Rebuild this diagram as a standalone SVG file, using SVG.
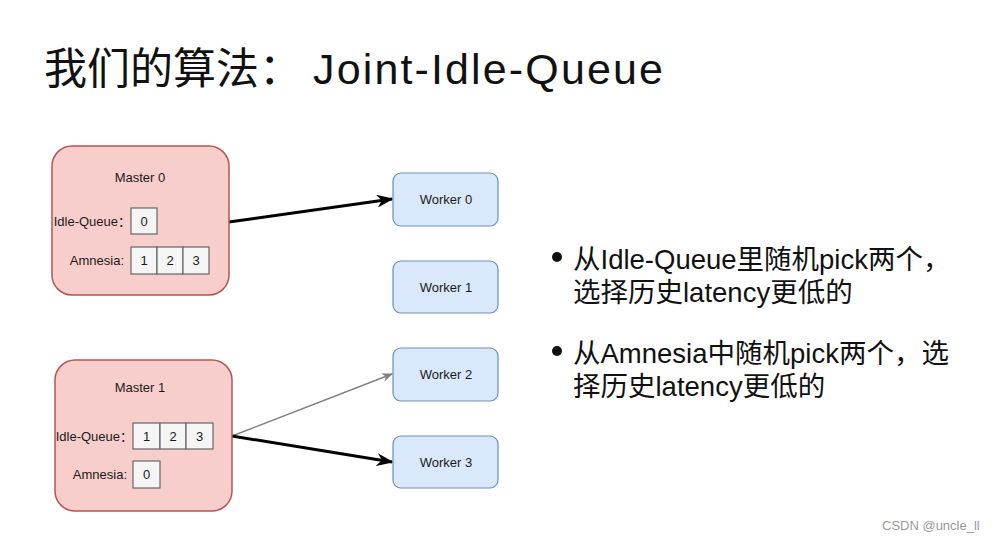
<svg xmlns="http://www.w3.org/2000/svg" width="999" height="543" viewBox="0 0 999 543">
<defs>
<style>
.sans{font-family:"Liberation Sans","Noto Sans CJK SC",sans-serif;}
.master{fill:#f8cecc;stroke:#b85450;stroke-width:1.5;}
.worker{fill:#dae8fc;stroke:#6c8ebf;stroke-width:1.2;}
.cell{fill:#f5f5f5;stroke:#666666;stroke-width:1.2;}
.lbl{font-size:13px;fill:#1a1a1a;}
.mid{text-anchor:middle;}
.end{text-anchor:end;}
.bul{font-size:27.5px;fill:#111;}
</style>
<marker id="ahBlack" markerUnits="userSpaceOnUse" viewBox="0 0 10 10" markerWidth="17" markerHeight="13" refX="9" refY="5" orient="auto" preserveAspectRatio="none">
<path d="M0,0 L10,5 L0,10 L3,5 z" fill="#000"/>
</marker>
<marker id="ahGray" markerUnits="userSpaceOnUse" viewBox="0 0 10 10" markerWidth="11" markerHeight="9" refX="9" refY="5" orient="auto" preserveAspectRatio="none">
<path d="M0,0 L10,5 L0,10 L3,5 z" fill="#808080"/>
</marker>
</defs>
<rect width="999" height="543" fill="#ffffff"/>

<text id="title" class="sans" x="44" y="84" font-size="43" fill="#111">我们的算法：<tspan x="313" textLength="350" lengthAdjust="spacing">Joint-Idle-Queue</tspan></text>

<g id="connectors">
<line x1="229" y1="222" x2="392" y2="199" stroke="#000" stroke-width="3" marker-end="url(#ahBlack)"/>
<line x1="232" y1="436" x2="392" y2="374" stroke="#808080" stroke-width="1.5" marker-end="url(#ahGray)"/>
<line x1="232" y1="436" x2="392" y2="462" stroke="#000" stroke-width="3" marker-end="url(#ahBlack)"/>
</g>

<g id="master0" class="sans">
<rect class="master" x="52" y="146" width="177" height="149" rx="20"/>
<text class="lbl mid" x="140" y="182">Master 0</text>
<text class="lbl end" x="131" y="226">Idle-Queue：</text>
<rect class="cell" x="131" y="208" width="26" height="26"/>
<text class="lbl mid" x="144" y="226">0</text>
<text class="lbl end" x="124" y="265">Amnesia:</text>
<rect class="cell" x="131" y="247" width="26" height="27"/>
<rect class="cell" x="157" y="247" width="26" height="27"/>
<rect class="cell" x="183" y="247" width="26" height="27"/>
<text class="lbl mid" x="144" y="265">1</text>
<text class="lbl mid" x="170" y="265">2</text>
<text class="lbl mid" x="196" y="265">3</text>
</g>

<g id="master1" class="sans">
<rect class="master" x="55" y="360" width="177" height="151" rx="20"/>
<text class="lbl mid" x="140" y="392">Master 1</text>
<text class="lbl end" x="133" y="441">Idle-Queue：</text>
<rect class="cell" x="133" y="423" width="27" height="26"/>
<rect class="cell" x="160" y="423" width="26" height="26"/>
<rect class="cell" x="186" y="423" width="27" height="26"/>
<text class="lbl mid" x="146.5" y="441">1</text>
<text class="lbl mid" x="173" y="441">2</text>
<text class="lbl mid" x="199.5" y="441">3</text>
<text class="lbl end" x="127" y="479">Amnesia:</text>
<rect class="cell" x="133" y="461" width="27" height="27"/>
<text class="lbl mid" x="146.5" y="479">0</text>
</g>

<g id="worker0" class="sans">
<rect class="worker" x="393" y="173" width="105" height="53" rx="8"/>
<text class="lbl mid" x="446" y="204">Worker 0</text>
</g>
<g id="worker1" class="sans">
<rect class="worker" x="393" y="261" width="105" height="52" rx="8"/>
<text class="lbl mid" x="446" y="292">Worker 1</text>
</g>
<g id="worker2" class="sans">
<rect class="worker" x="393" y="348" width="105" height="53" rx="8"/>
<text class="lbl mid" x="446" y="379">Worker 2</text>
</g>
<g id="worker3" class="sans">
<rect class="worker" x="393" y="436" width="105" height="52" rx="8"/>
<text class="lbl mid" x="446" y="467">Worker 3</text>
</g>

<g id="bullets" class="sans">
<circle cx="557" cy="257" r="5" fill="#111"/>
<text class="bul" x="573" y="269">从Idle-Queue里随机pick两个，</text>
<text class="bul" x="573" y="302">选择历史latency更低的</text>
<circle cx="557" cy="351" r="5" fill="#111"/>
<text class="bul" x="573" y="363">从Amnesia中随机pick两个，选</text>
<text class="bul" x="573" y="396">择历史latency更低的</text>
</g>

<text id="watermark" class="sans" x="882" y="530" font-size="13" fill="#999">CSDN @uncle_ll</text>
</svg>
